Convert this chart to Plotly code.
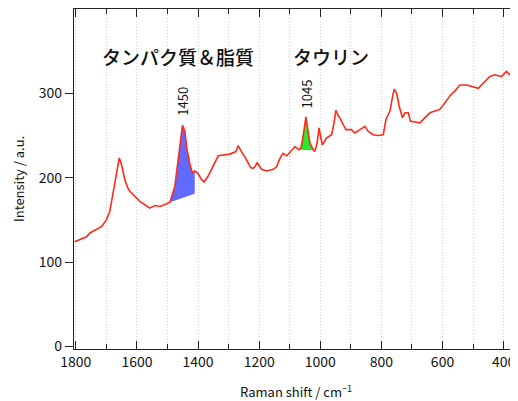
import plotly.graph_objects as go

# Raman spectrum
shift = [1804, 1790, 1776, 1765, 1754, 1740, 1732, 1716, 1700, 1689, 1678, 1667, 1658, 1650,
         1640, 1630, 1623, 1607, 1590, 1574, 1558, 1541, 1525, 1510, 1492, 1476, 1465, 1457,
         1451, 1443, 1436, 1427, 1419, 1411, 1400, 1389, 1380, 1367, 1351, 1334, 1318, 1296,
         1276, 1269, 1258, 1244, 1228, 1220, 1214, 1207, 1198, 1192, 1176, 1154, 1143, 1132,
         1122, 1110, 1097, 1083, 1069, 1063, 1058, 1052, 1047, 1042, 1034, 1023, 1018, 1010,
         1004, 998, 993, 980, 963, 955, 949, 942, 936, 925, 916, 898, 887, 870, 854, 843, 827,
         811, 794, 785, 772, 763, 758, 750, 742, 731, 723, 712, 705, 690, 674, 658, 641, 625,
         609, 592, 576, 559, 543, 521, 500, 483, 467, 445, 429, 407, 391, 380, 369, 358]
intensity = [124, 126, 128.6, 130, 134.5, 137, 139, 142, 150, 160, 182, 206, 223.5, 215,
             198, 188, 184, 178, 172, 168, 164, 167, 166, 168, 171, 190, 221, 249,
             262, 255, 233, 217, 206, 208, 205, 198, 195, 202, 213, 226, 227, 228,
             231, 238, 231, 223, 212, 211, 213, 218, 213, 210, 208, 210, 213, 223,
             229, 226, 231, 237, 233, 236, 245, 262, 272, 260, 241, 233, 231, 242,
             259, 247, 239, 247, 251, 265, 280, 274, 271, 263, 257, 257, 253, 257, 261, 255, 251,
             250, 251, 269, 279, 297, 305, 300, 285, 271, 277, 277, 267, 266, 265, 271, 277, 279,
             281, 289, 297, 303, 310, 310, 308, 306, 312, 320, 322, 320, 326, 322, 328, 330]

# Integrated bands: (start shift, baseline start), (end shift, baseline end)
band_1450 = [(1492, 171), (1411, 181)]
band_1045 = [(1065, 233), (1025, 233)]

peak_labels = ["1450", "1045"]
peak_pos = [1450, 1046]
group_labels = ["タンパク質＆脂質", "タウリン"]
group_pos = [1466, 965]

xtick_vals = [1800, 1600, 1400, 1200, 1000, 800, 600, 400]
ytick_vals = [0, 100, 200, 300]

FONT = "Noto Sans CJK JP"


def band_polygon(band):
    (x0, b0), (x1, b1) = band
    xs, ys = [], []
    for x, y in zip(shift, intensity):
        if x1 <= x <= x0:
            xs.append(x)
            ys.append(y)
    xs = [x0] + xs + [x1, x0]
    ys = [b0] + ys + [b1, b0]
    return xs, ys


fig = go.Figure()

bx, by = band_polygon(band_1450)
fig.add_trace(go.Scatter(x=bx, y=by, fill="toself", mode="none",
                         fillcolor="rgba(80,90,255,0.9)", hoverinfo="skip"))
gx, gy = band_polygon(band_1045)
fig.add_trace(go.Scatter(x=gx, y=gy, fill="toself", mode="none",
                         fillcolor="rgb(40,235,40)", hoverinfo="skip"))

fig.add_trace(go.Scatter(x=shift, y=intensity, mode="lines",
                         line=dict(color="#ff2a1a", width=1.6)))

for t, x, y in zip(peak_labels, peak_pos, [291, 299]):
    fig.add_annotation(x=x, y=y, text=t, showarrow=False, textangle=-90,
                       font=dict(family=FONT, size=13, color="#111"))
for t, x in zip(group_labels, group_pos):
    fig.add_annotation(x=x, y=344, text=t, showarrow=False,
                       font=dict(family=FONT, size=19, color="#111", weight=500))

# axis titles as paper annotations
fig.add_annotation(xref="paper", yref="paper", x=0.5, y=-0.1235, yanchor="middle",
                   xanchor="center", text="Raman shift / cm<sup>−1</sup>", showarrow=False,
                   font=dict(family=FONT, size=13, color="#111"))
fig.add_annotation(xref="paper", yref="paper", x=-0.126, y=0.5, xanchor="center",
                   yanchor="middle", textangle=-90, text="Intensity / a.u.", showarrow=False,
                   font=dict(family=FONT, size=13, color="#111"))

# page body adds an 8px offset, so the figure is 8px smaller
fig.update_layout(
    width=510, height=393,
    margin=dict(l=66, r=0, t=1, b=52, autoexpand=False),
    paper_bgcolor="white", plot_bgcolor="white",
    showlegend=False,
    font=dict(family=FONT, color="#111"),
)
fig.update_xaxes(
    range=[1806, 353], tickvals=xtick_vals, ticks="inside", ticklen=8, automargin=False,
    tickwidth=1, tickcolor="#222", showline=True, linecolor="#222", linewidth=1.2,
    mirror="ticks", showgrid=True, gridcolor="#cfcfcf", griddash="1px,2px", gridwidth=1,
    zeroline=False, tickfont=dict(size=14, family=FONT, color="#111"),
    minor=dict(dtick=100, ticks="inside", ticklen=5, tickcolor="#222",
               showgrid=True, gridcolor="#cfcfcf", griddash="1px,2px"),
)
fig.update_yaxes(
    range=[-3, 400], tickvals=ytick_vals, ticks="outside", ticklen=8, tickwidth=1,
    automargin=False,
    tickcolor="#222", showline=True, linecolor="#222", linewidth=1.2, mirror=False,
    showgrid=False, zeroline=False, tickfont=dict(size=14, family=FONT, color="#111"),
)

fig.write_html("out.html")
